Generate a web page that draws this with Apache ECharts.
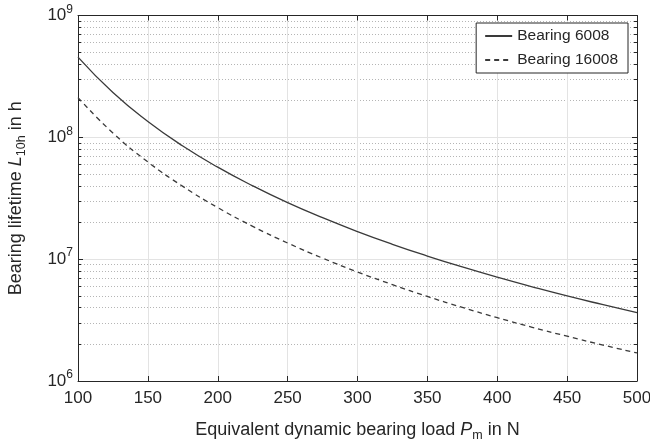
<!DOCTYPE html>
<html>
<head>
<meta charset="utf-8">
<script src="https://cdn.jsdelivr.net/npm/echarts@6/dist/echarts.min.js"></script>
<style>html,body{margin:0;padding:0;background:#fff}#c{width:650px;height:442px}</style>
</head>
<body>
<div id="c"></div>
<script>
// Equivalent dynamic bearing load P_m in N
const loads = [100,125,150,175,200,225,250,275,300,325,350,375,400,425,450,475,500];
// Bearing lifetime L10h in h
const bearing6008 = [4.55e8,2.33e8,1.35e8,8.49e7,5.69e7,4.0e7,2.91e7,2.19e7,1.685e7,1.325e7,1.061e7,8.63e6,7.11e6,5.93e6,4.99e6,4.25e6,3.64e6];
const bearing16008 = [2.12e8,1.085e8,6.28e7,3.96e7,2.65e7,1.86e7,1.357e7,1.02e7,7.85e6,6.18e6,4.94e6,4.02e6,3.31e6,2.76e6,2.33e6,1.98e6,1.70e6];
const seriesNames = ['Bearing 6008','Bearing 16008'];
const yMinorTicks = [2e6,3e6,4e6,5e6,6e6,7e6,8e6,9e6,2e7,3e7,4e7,5e7,6e7,7e7,8e7,9e7,2e8,3e8,4e8,5e8,6e8,7e8,8e8,9e8];

const font = 'Liberation Sans, Arial, Helvetica, sans-serif';
const txt = '#262626';
const chart = echarts.init(document.getElementById('c'));
const pairs = a => loads.map((x,i)=>[x,a[i]]);

const supRich = {
  b:{fontSize:17,fontFamily:font,color:txt,lineHeight:24},
  s:{fontSize:12,fontFamily:font,color:txt,lineHeight:8,verticalAlign:'top'}
};
const subRich = {
  a:{fontSize:18,fontFamily:font,color:txt,lineHeight:24},
  i:{fontSize:18,fontFamily:font,color:txt,lineHeight:24,fontStyle:'italic'},
  sub:{fontSize:12.5,fontFamily:font,color:txt,lineHeight:8,verticalAlign:'bottom'}
};

const yBase = {type:'log',logBase:10,min:1e6,max:1e9,gridIndex:0};
chart.setOption({
  animation:false,
  backgroundColor:'#fff',
  grid:{left:78,right:13,top:15.5,bottom:61,containLabel:false,outerBoundsMode:'none'},
  legend:{
    data:seriesNames,orient:'vertical',right:22,top:23,
    backgroundColor:'#fff',borderColor:'#262626',borderWidth:1,borderRadius:0,
    padding:[5,10,5,8],itemWidth:27,itemHeight:14,itemGap:8,
    itemStyle:{opacity:0},
    textStyle:{fontSize:15.5,fontFamily:font,color:txt}
  },
  xAxis:[
    {type:'value',min:100,max:500,interval:50,position:'bottom',
     axisLine:{show:true,lineStyle:{color:'#262626',width:1}},
     axisTick:{show:true,inside:true,length:5,lineStyle:{color:'#262626'}},
     axisLabel:{fontSize:17,fontFamily:font,color:txt,margin:9},
     splitLine:{show:true,lineStyle:{color:'#e3e3e3',width:1}},
     name:'{a|Equivalent dynamic bearing load }{i|P}{sub|m}{a| in N}',
     nameLocation:'middle',nameGap:37,nameTextStyle:{rich:subRich}},
    {type:'value',min:100,max:500,interval:50,position:'top',
     axisLine:{show:true,onZero:false,lineStyle:{color:'#262626',width:1}},
     axisTick:{show:true,inside:true,length:5,lineStyle:{color:'#262626'}},
     axisLabel:{show:false},splitLine:{show:false}}
  ],
  yAxis:[
    Object.assign({},yBase,{position:'left',
     axisLine:{show:true,onZero:false,lineStyle:{color:'#262626',width:1}},
     axisTick:{show:true,inside:true,length:5,lineStyle:{color:'#262626'}},
     axisLabel:{margin:5,formatter:v=>'{b|10}{s|'+Math.round(Math.log10(v))+'}',rich:supRich},
     splitLine:{show:true,lineStyle:{color:'#e3e3e3',width:1}},
     name:'{a|Bearing lifetime }{i|L}{sub|10h}{a| in h}',
     nameLocation:'middle',nameGap:50,nameRotate:90,nameTextStyle:{rich:subRich}}),
    Object.assign({},yBase,{position:'left',
     axisLine:{show:false},
     axisTick:{show:true,inside:true,length:3,customValues:yMinorTicks,lineStyle:{color:'#262626'}},
     axisLabel:{show:false},
     splitLine:{show:true,lineStyle:{color:'#b5b5b5',width:1,type:[1,2]}}}),
    Object.assign({},yBase,{position:'right',
     axisLine:{show:true,onZero:false,lineStyle:{color:'#262626',width:1}},
     axisTick:{show:true,inside:true,length:5,lineStyle:{color:'#262626'}},
     axisLabel:{show:false},splitLine:{show:false}}),
    Object.assign({},yBase,{position:'right',
     axisLine:{show:false},
     axisTick:{show:true,inside:true,length:3,customValues:yMinorTicks,lineStyle:{color:'#262626'}},
     axisLabel:{show:false},splitLine:{show:false}})
  ],
  series:[
    {name:seriesNames[0],type:'line',data:pairs(bearing6008),smooth:true,symbol:'none',
     lineStyle:{color:'#3a3a3a',width:1.3,type:'solid'},itemStyle:{color:'#3a3a3a'},z:5},
    {name:seriesNames[1],type:'line',data:pairs(bearing16008),smooth:true,symbol:'none',
     lineStyle:{color:'#3a3a3a',width:1.3,type:[5,4]},itemStyle:{color:'#3a3a3a'},z:5}
  ]
});
</script>
</body>
</html>
